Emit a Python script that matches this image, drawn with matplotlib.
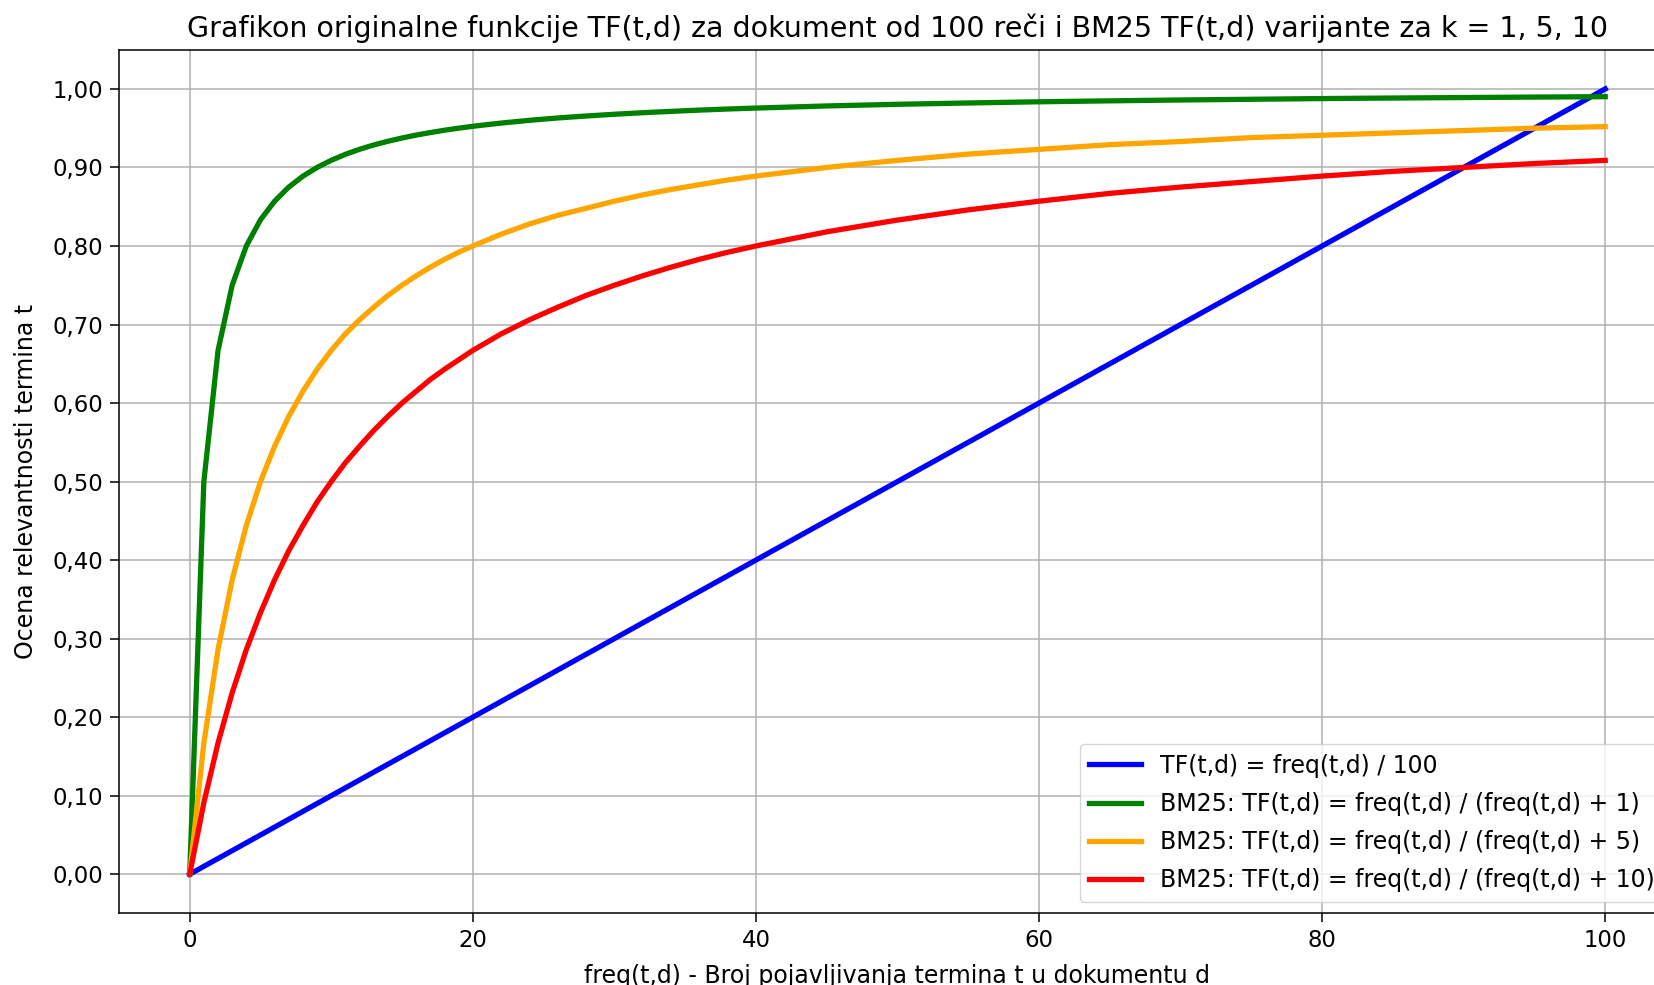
import matplotlib
matplotlib.use('Agg')
import matplotlib.pyplot as plt
from matplotlib.ticker import FuncFormatter

# broj pojavljivanja termina (freq) i ocitane vrednosti krivih
freq = [0, 1, 2, 3, 4, 5, 6, 7, 8, 9, 10, 11, 12, 13, 14, 15, 16, 17, 18, 19, 20,
        22, 24, 26, 28, 30, 32, 34, 36, 38, 40,
        45, 50, 55, 60, 65, 70, 75, 80, 85, 90, 95, 100]

tf_orig = [0.00, 0.01, 0.02, 0.03, 0.04, 0.05, 0.06, 0.07, 0.08, 0.09, 0.10, 0.11, 0.12,
           0.13, 0.14, 0.15, 0.16, 0.17, 0.18, 0.19, 0.20,
           0.22, 0.24, 0.26, 0.28, 0.30, 0.32, 0.34, 0.36, 0.38, 0.40,
           0.45, 0.50, 0.55, 0.60, 0.65, 0.70, 0.75, 0.80, 0.85, 0.90, 0.95, 1.00]

tf_k1 = [0.0000, 0.5000, 0.6667, 0.7500, 0.8000, 0.8333, 0.8571, 0.8750, 0.8889, 0.9000, 0.9091,
         0.9167, 0.9231, 0.9286, 0.9333, 0.9375, 0.9412, 0.9444, 0.9474, 0.9500, 0.9524,
         0.9565, 0.9600, 0.9630, 0.9655, 0.9677, 0.9697, 0.9714, 0.9730, 0.9744, 0.9756,
         0.9783, 0.9804, 0.9821, 0.9836, 0.9848, 0.9859, 0.9868, 0.9877, 0.9884, 0.9890,
         0.9896, 0.9901]

tf_k5 = [0.000, 0.167, 0.286, 0.375, 0.444, 0.500, 0.545, 0.583, 0.615, 0.643, 0.667,
         0.688, 0.706, 0.722, 0.737, 0.750, 0.762, 0.773, 0.783, 0.792, 0.800,
         0.815, 0.828, 0.839, 0.848, 0.857, 0.865, 0.872, 0.878, 0.884, 0.889,
         0.900, 0.909, 0.917, 0.923, 0.929, 0.933, 0.938, 0.941, 0.944, 0.947, 0.950, 0.952]

tf_k10 = [0.000, 0.091, 0.167, 0.231, 0.286, 0.333, 0.375, 0.412, 0.444, 0.474, 0.500,
          0.524, 0.545, 0.565, 0.583, 0.600, 0.615, 0.630, 0.643, 0.655, 0.667,
          0.688, 0.706, 0.722, 0.737, 0.750, 0.762, 0.773, 0.783, 0.792, 0.800,
          0.818, 0.833, 0.846, 0.857, 0.867, 0.875, 0.882, 0.889, 0.895, 0.900, 0.905, 0.909]

labels = ['TF(t,d) = freq(t,d) / 100',
          'BM25: TF(t,d) = freq(t,d) / (freq(t,d) + 1)',
          'BM25: TF(t,d) = freq(t,d) / (freq(t,d) + 5)',
          'BM25: TF(t,d) = freq(t,d) / (freq(t,d) + 10)']
colors = ['blue', 'green', 'orange', 'red']

plt.rcParams['font.family'] = ['DejaVu Sans']

fig = plt.figure(figsize=(16.54, 9.85), dpi=100)
ax = fig.add_axes([0.0719, 0.0726, 0.9414, 0.8770])

for ys, lab, c in zip([tf_orig, tf_k1, tf_k5, tf_k10], labels, colors):
    ax.plot(freq, ys, color=c, linewidth=3.8, label=lab)

ax.set_xlim(-5, 105)
ax.set_ylim(-0.05, 1.05)
ax.set_xticks([0, 20, 40, 60, 80, 100])
ax.set_yticks([i / 10 for i in range(11)])
ax.yaxis.set_major_formatter(FuncFormatter(lambda v, p: f'{v:.2f}'.replace('.', ',')))
ax.tick_params(labelsize=16.4, length=6.5, width=1.1, pad=5)
for s in ax.spines.values():
    s.set_linewidth(1.1)
ax.grid(True, linewidth=1.1, color='#b0b0b0')

ax.set_title('Grafikon originalne funkcije TF(t,d) za dokument od 100 reči i BM25 TF(t,d) varijante za k = 1, 5, 10',
             fontsize=20.5, pad=9)
ax.set_xlabel('freq(t,d) - Broj pojavljivanja termina t u dokumentu d', fontsize=17, labelpad=8)
ax.set_ylabel('Ocena relevantnosti termina t', fontsize=17, labelpad=10)
ax.legend(loc='lower right', fontsize=17, handlelength=2.2, labelspacing=0.6,
          framealpha=0.8)

fig.savefig('out.png', dpi=100)
